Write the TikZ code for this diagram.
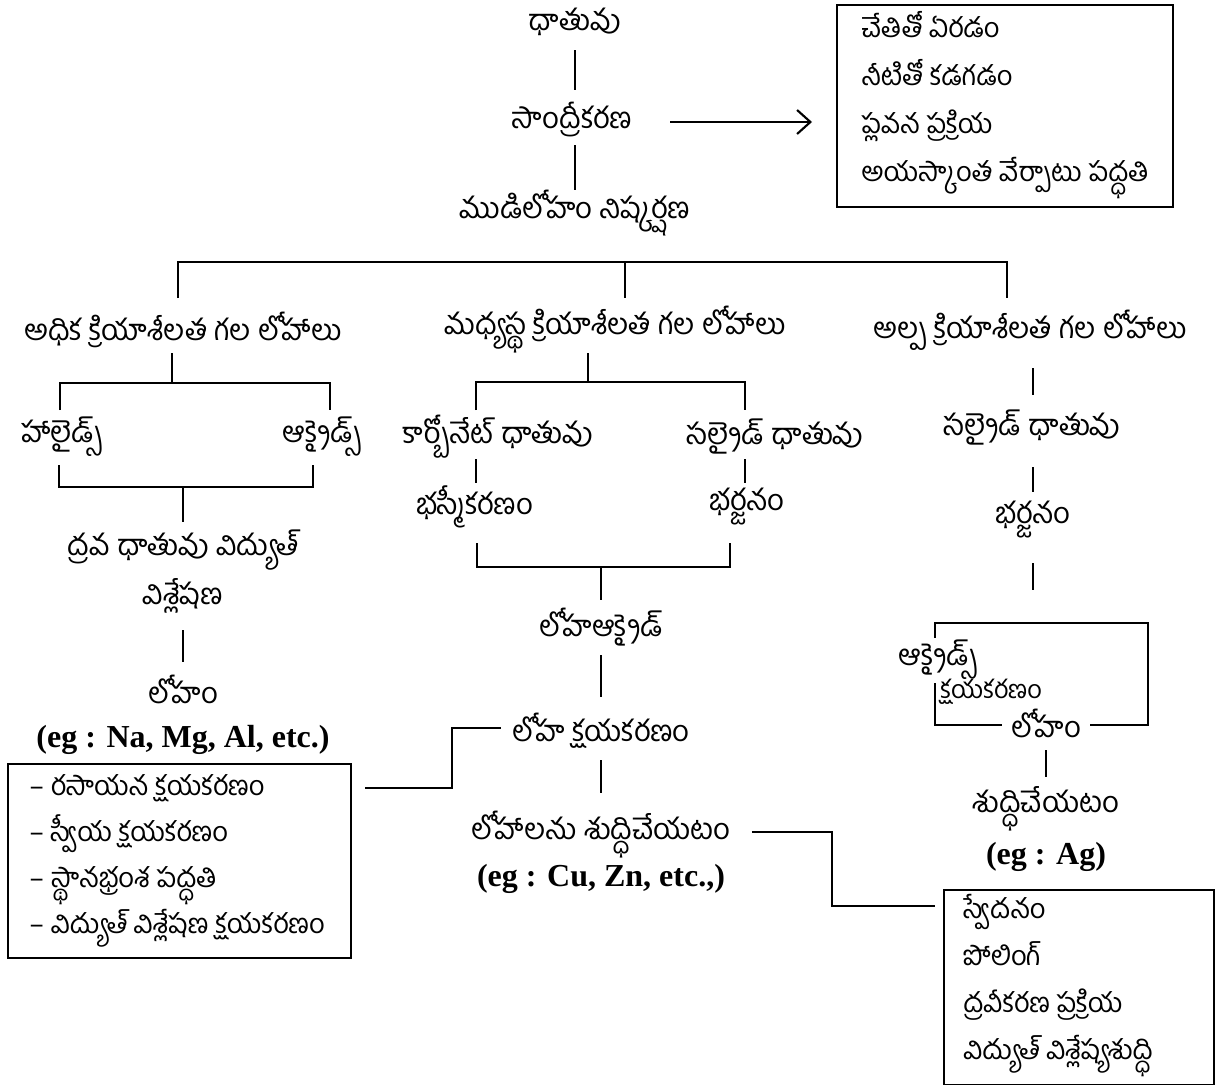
\documentclass[tikz,border=0pt]{standalone}
\usepackage{fontspec}
\newfontfamily\tel[Script=Telugu]{Hind Guntur}
\newfontfamily\egf{Liberation Serif}
\usetikzlibrary{arrows.meta,calc}
\begin{document}
\begin{tikzpicture}[x=0.75pt,y=-0.75pt,line width=2pt,
  lbl/.style={font=\tel\fontsize{22}{26}\selectfont,inner sep=0pt},
  egl/.style={font=\egf\bfseries\fontsize{24}{28}\selectfont,inner sep=0pt},
  frame/.style={draw,line width=1.8pt,anchor=north west,inner sep=0pt},
  listtxt/.style={anchor=west,align=left,inner sep=0pt},
  maskw/.style={fill=white},
  arr/.style={-{Straight Barb[length=10pt,width=18pt,line width=1.6pt]}}]
\useasboundingbox (0,0) rectangle (1218,1085);
% top column
\node[lbl] (n1) at (575,22) {ధాతువు};
\node[lbl] (n2) at (572,120) {సాంద్రీకరణ};
\node[lbl] (n3) at (575,213) {ముడిలోహం నిష్కర్షణ};
\node[frame,minimum width=336*0.75pt,minimum height=202*0.75pt] (b1) at (836,4) {};
\node[listtxt,font=\tel\fontsize{20.5}{36}\selectfont] (b1t) at ($(b1.west)+(24,-1)$)
  {చేతితో ఏరడం\\ నీటితో కడగడం\\ ప్లవన ప్రక్రియ\\ అయస్కాంత వేర్పాటు పద్ధతి};
\draw ($(n1)+(0,28)$) -- ($(n1)+(0,68)$);
\draw ($(n3)+(0,-68)$) -- ($(n3)+(0,-23)$);
\draw[arr] ($(n2)+(98,2)$) -- ($(b1.west |- n2)+(-24,2)$);
% level 1
\node[lbl] (r1) at (183,330) {అధిక క్రియాశీలత గల లోహాలు};
\node[lbl] (r2) at (615,330) {మధ్యస్థ క్రియాశీలత గల లోహాలు};
\node[lbl] (r3) at (1030,330) {అల్ప క్రియాశీలత గల లోహాలు};
\coordinate (jL) at (178,262);
\coordinate (jM) at (625,262);
\coordinate (jR) at (1007,262);
\draw ($(r1)+(-5,-32)$) -- (jL) -- (jR) -- ($(r3 -| jR)+(0,-32)$);
\draw (jM) -- ($(r2 -| jM)+(0,-32)$);
% left branch
\node[lbl] (hal) at (62,437) {హాలైడ్స్};
\node[lbl] (oxl) at (322,437) {ఆక్సైడ్స్};
\draw ($(r1)+(-11,23)$) -- ($(r1)+(-11,53)$);
\draw ($(hal)+(-2,-27)$) -- ($(hal)+(-2,-54)$) -- ($(oxl)+(8,-54)$) -- ($(oxl)+(8,-27)$);
\node[lbl,align=center,font=\tel\fontsize{22}{36.75}\selectfont] (dv) at (183,572) {ద్రవ ధాతువు విద్యుత్\\ విశ్లేషణ};
\draw ($(hal)+(-3,28)$) -- ($(hal)+(-3,50)$) -- ($(oxl)+(-9,50)$) -- ($(oxl)+(-9,28)$);
\draw ($(dv)+(0,-85)$) -- ($(dv)+(0,-50)$);
\node[lbl] (m1) at (183,689) {లోహం};
\draw ($(dv)+(0,58)$) -- ($(m1)+(0,-27)$);
\node[egl] (eg1) at (183,740) {(eg : Na, Mg, Al, etc.)};
\node[frame,minimum width=343*0.75pt,minimum height=194*0.75pt] (b2) at (7,763) {};
\node[listtxt,font=\tel\fontsize{20.5}{34.5}\selectfont] (b2t) at ($(b2.west)+(21,0)$)
  {– రసాయన క్షయకరణం\\ – స్వీయ క్షయకరణం\\ – స్థానభ్రంశ పద్ధతి\\ – విద్యుత్ విశ్లేషణ క్షయకరణం};
% middle branch
\node[lbl] (carb) at (498,437) {కార్బోనేట్ ధాతువు};
\node[lbl] (sulf) at (775,437) {సల్ఫైడ్ ధాతువు};
\draw ($(r2)+(-27,23)$) -- ($(r2)+(-27,52)$);
\draw ($(carb)+(-22,-27)$) -- ($(carb)+(-22,-55)$) -- ($(sulf)+(-30,-55)$) -- ($(sulf)+(-30,-27)$);
\node[lbl] (bhas) at (475,507) {భస్మీకరణం};
\node[lbl] (bhar) at (747,507) {భర్జనం};
\draw ($(carb)+(-22,22)$) -- ($(bhas)+(1,-24)$);
\draw ($(sulf)+(-30,22)$) -- ($(bhar)+(-2,-24)$);
\node[lbl] (lox) at (601,627) {లోహఆక్సైడ్};
\draw ($(bhas)+(2,36)$) -- ($(bhas)+(2,60)$) -- ($(bhar)+(-17,60)$) -- ($(bhar)+(-17,36)$);
\draw ($(lox)+(0,-60)$) -- ($(lox)+(0,-27)$);
\node[lbl] (lred) at (601,731) {లోహ క్షయకరణం};
\draw ($(lox)+(0,28)$) -- ($(lred)+(0,-34)$);
\node[lbl] (lsud) at (601,835) {లోహాలను శుద్ధిచేయటం};
\node[egl] (eg2) at (601,879) {(eg : Cu, Zn, etc.,)};
\draw ($(lred)+(0,29)$) -- ($(lsud)+(0,-42)$);
\node[frame,minimum width=270*0.75pt,minimum height=195*0.75pt] (b3) at (943,889) {};
\node[listtxt,font=\tel\fontsize{20.5}{35.25}\selectfont] (b3t) at ($(b3.west)+(19,-2)$)
  {స్వేదనం\\ పోలింగ్\\ ద్రవీకరణ ప్రక్రియ\\ విద్యుత్ విశ్లేష్యశుద్ధి};
% right branch
\node[lbl] (sulf2) at (1032,428) {సల్ఫైడ్ ధాతువు};
\node[lbl] (bhar2) at (1033,520) {భర్జనం};
\draw ($(r3)+(3,38)$) -- ($(sulf2)+(1,-33)$);
\draw ($(sulf2)+(1,39)$) -- ($(bhar2)+(0,-28)$);
\coordinate (obTL) at (935,623);
\coordinate (obBR) at (1148,725);
\draw ($(bhar2)+(0,43)$) -- ($(bhar2)+(0,70)$);
\node[lbl] (m2) at (1046,723) {లోహం};
\draw ($(m2.west)+(-8,2)$) -| (obTL) -| (obBR) -- ($(m2.east)+(8,2)$);
\node[lbl,maskw,inner sep=2pt] (ox2) at (938,660) {ఆక్సైడ్స్};
\node[lbl,anchor=west,font=\tel\fontsize{19}{22}\selectfont] (ksh) at (939,692) {క్షయకరణం};
\node[lbl] (sud2) at (1046,809) {శుద్ధిచేయటం};
\node[egl] (eg3) at (1046,857) {(eg : Ag)};
\draw ($(m2)+(0,27)$) -- ($(sud2)+(0,-32)$);
% connectors to boxes
\coordinate (cL) at (452,788);
\coordinate (cR) at (832,832);
\coordinate (cB) at (935,906);
\draw ($(b2.east |- cL)+(13,0)$) -- (cL) |- ($(lred.west)+(-10,-3)$);
\draw ($(lsud.east)+(20,-3)$) -| (cR) |- (cB);
\end{tikzpicture}
\end{document}
